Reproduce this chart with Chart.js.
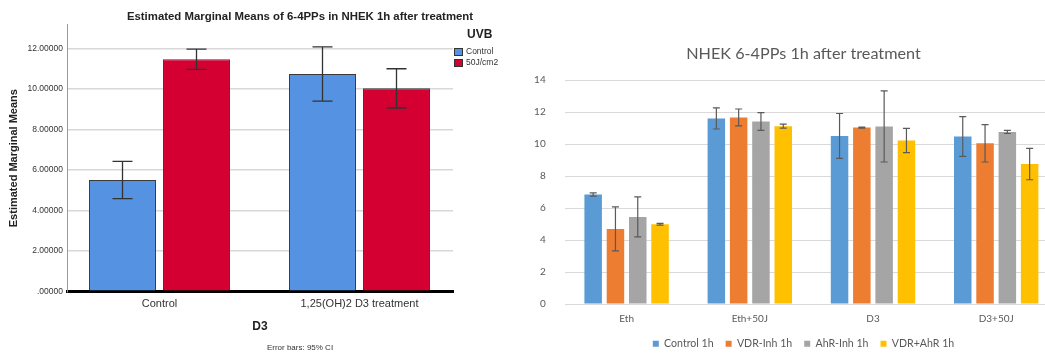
<!DOCTYPE html>
<html>
<head>
<meta charset="utf-8">
<script src="https://cdn.jsdelivr.net/npm/chart.js@4.4.1/dist/chart.umd.min.js"></script>
<style>
  html, body { margin: 0; padding: 0; background: #fff; }
  body { width: 1045px; height: 353px; position: relative; overflow: hidden; }
  #emm { position: absolute; left: 0; top: 0; }
  #nhek { position: absolute; left: 500px; top: 0; }
</style>
</head>
<body>
<canvas id="emm" width="600" height="353"></canvas>
<canvas id="nhek" width="607" height="353"></canvas>
<script>
// ---- Estimated marginal means (SPSS style) ----
const d3Groups = ['Control', '1,25(OH)2 D3 treatment'];
const uvbLabels = ['Control', '50J/cm2'];
const emmControl = [5.50, 10.73];
const emm50J = [11.46, 10.02];
const ciControl = [0.92, 1.34];
const ci50J = [0.50, 0.97];
const emmTicks = [0, 2, 4, 6, 8, 10, 12];

// ---- NHEK 6-4PPs 1h after treatment ----
const treatments = ['Eth', 'Eth+50J', 'D3', 'D3+50J'];
const seriesNames = ['Control 1h', 'VDR-Inh 1h', 'AhR-Inh 1h', 'VDR+AhR 1h'];
const control1h = [6.85, 11.60, 10.51, 10.47];
const vdrInh1h = [4.70, 11.66, 11.03, 10.05];
const ahrInh1h = [5.45, 11.41, 11.10, 10.76];
const vdrAhr1h = [4.99, 11.12, 10.22, 8.75];
const errControl1h = [0.10, 0.66, 1.40, 1.24];
const errVdrInh1h = [1.38, 0.53, 0.03, 1.17];
const errAhrInh1h = [1.25, 0.55, 2.22, 0.10];
const errVdrAhr1h = [0.05, 0.13, 0.76, 0.98];

// Draws symmetric error bars from each dataset's `errors` array
const errorBars = {
  id: 'errorBars',
  afterDatasetsDraw(chart, args, opts) {
    const ctx = chart.ctx;
    const y = chart.scales.y;
    ctx.save();
    ctx.strokeStyle = opts.color;
    ctx.lineWidth = opts.width;
    chart.data.datasets.forEach((ds, di) => {
      const meta = chart.getDatasetMeta(di);
      if (!ds.errors || meta.hidden) return;
      meta.data.forEach((bar, i) => {
        const v = meta._parsed[i].y, e = ds.errors[i];
        const x = bar.x;
        const top = y.getPixelForValue(v + e);
        const bot = y.getPixelForValue(v - e);
        ctx.beginPath();
        ctx.moveTo(x, top); ctx.lineTo(x, bot);
        ctx.moveTo(x - opts.cap, top); ctx.lineTo(x + opts.cap, top);
        ctx.moveTo(x - opts.cap, bot); ctx.lineTo(x + opts.cap, bot);
        ctx.stroke();
      });
    });
    ctx.restore();
  }
};

// SPSS-like legend with a title, placed to the right of the plot area
const uvbLegend = {
  id: 'uvbLegend',
  afterDraw(chart, args, opts) {
    const ctx = chart.ctx;
    const x0 = chart.chartArea.right + 1;
    ctx.save();
    ctx.fillStyle = '#222';
    ctx.font = 'bold 12px "Liberation Sans", Arial, sans-serif';
    ctx.textBaseline = 'middle';
    ctx.textAlign = 'left';
    ctx.fillText(opts.title, x0 + 13, 35);
    ctx.font = '8.5px "Liberation Sans", Arial, sans-serif';
    chart.data.datasets.forEach((ds, i) => {
      const cy = 52 + i * 11;
      ctx.fillStyle = ds.backgroundColor;
      ctx.fillRect(x0, cy - 3.5, 8, 7);
      ctx.strokeStyle = '#333';
      ctx.lineWidth = 1;
      ctx.strokeRect(x0 + 0.5, cy - 3.5, 8, 7);
      ctx.fillStyle = '#333';
      ctx.fillText(ds.label, x0 + 12, cy);
    });
    ctx.restore();
  }
};

const arial = '"Liberation Sans", Arial, sans-serif';
const asPoints = arr => arr.map((v, i) => ({ x: i, y: v }));

new Chart(document.getElementById('emm'), {
  type: 'bar',
  data: {
    datasets: [
      { label: uvbLabels[0], data: asPoints(emmControl), errors: ciControl,
        backgroundColor: '#5592e2', borderColor: '#3a3a3a', borderWidth: 1 },
      { label: uvbLabels[1], data: asPoints(emm50J), errors: ci50J,
        backgroundColor: '#d50032', borderColor: '#3a3a3a', borderWidth: 1 }
    ]
  },
  options: {
    responsive: false,
    animation: false,
    layout: { padding: 0 },
    datasets: { bar: { categoryPercentage: 0.74, barPercentage: 0.905 } },
    plugins: {
      legend: { display: false },
      tooltip: { enabled: false },
      title: {
        display: true,
        text: 'Estimated Marginal Means of 6-4PPs in NHEK 1h after treatment',
        font: { family: arial, size: 11.4, weight: 'bold' },
        color: '#222',
        padding: { top: 10.3, bottom: 1 }
      },
      subtitle: {
        display: true,
        position: 'bottom',
        text: 'Error bars: 95% CI',
        font: { family: arial, size: 8 },
        color: '#333',
        padding: 0
      },
      errorBars: { color: '#333', width: 1.3, cap: 10 },
      uvbLegend: { title: 'UVB' }
    },
    scales: {
      x: {
        type: 'linear',
        offset: false,
        min: -0.4625, max: 1.4675,
        grid: { display: false, drawTicks: false },
        border: { color: '#000', width: 3 },
        afterBuildTicks(s) { s.ticks = d3Groups.map((g, i) => ({ value: i })); },
        ticks: {
          font: { family: arial, size: 11 }, color: '#333', padding: 6,
          callback: v => d3Groups[v]
        },
        title: {
          display: true, text: 'D3',
          font: { family: arial, size: 12, weight: 'bold' }, color: '#222',
          padding: { top: 0, bottom: 10 }
        },
        afterFit(s) { s.height = 52.1; }
      },
      y: {
        min: 0, max: 13.15,
        grid: { color: '#d8d8d8', lineWidth: 1.5, drawTicks: false },
        border: { color: '#9a9a9a', width: 1 },
        ticks: {
          padding: 4,
          font: { family: arial, size: 8.5 }, color: '#333',
          callback: v => v === 0 ? '.00000' : v.toFixed(5)
        },
        afterBuildTicks(s) { s.ticks = emmTicks.map(v => ({ value: v })); },
        title: {
          display: true, text: 'Estimated Marginal Means',
          font: { family: arial, size: 11, weight: 'bold' }, color: '#222',
          padding: { top: 7.4, bottom: 0 }
        },
        afterFit(s) { s.width = 67; }
      },
      legendSpace: {
        type: 'linear', position: 'right', display: true,
        grid: { display: false }, border: { display: false },
        ticks: { display: false },
        afterFit(s) { s.width = 147; }
      }
    }
  },
  plugins: [errorBars, uvbLegend]
});

// ---- Excel-style clustered columns ----
const lato = 'Lato, "Open Sans", sans-serif';
const seriesColors = ['#5b9bd5', '#ed7d31', '#a5a5a5', '#ffc000'];
const seriesData = [control1h, vdrInh1h, ahrInh1h, vdrAhr1h];
const seriesErr = [errControl1h, errVdrInh1h, errAhrInh1h, errVdrAhr1h];

new Chart(document.getElementById('nhek'), {
  type: 'bar',
  data: {
    labels: treatments,
    datasets: seriesNames.map((name, i) => ({
      label: name, data: seriesData[i], errors: seriesErr[i],
      backgroundColor: seriesColors[i], borderWidth: 0
    }))
  },
  options: {
    responsive: false,
    animation: false,
    layout: { padding: { left: 0, right: 0, top: 0, bottom: -6 } },
    datasets: { bar: { categoryPercentage: 0.724, barPercentage: 0.785 } },
    plugins: {
      tooltip: { enabled: false },
      title: {
        display: true,
        text: 'NHEK 6-4PPs 1h after treatment',
        font: { family: lato, size: 16.2, weight: 'normal' },
        color: '#595959',
        padding: { top: 44.3, bottom: 16.3 }
      },
      legend: {
        position: 'bottom',
        labels: {
          boxWidth: 6, boxHeight: 6, padding: 12,
          font: { family: lato, size: 10.6 }, color: '#595959'
        }
      },
      errorBars: { color: '#5a5a5a', width: 1.2, cap: 3.5 }
    },
    scales: {
      x: {
        grid: { display: false, drawTicks: false },
        border: { color: '#d9d9d9', width: 1 },
        ticks: { font: { family: lato, size: 10 }, color: '#595959', padding: 9.1 },
        afterFit(s) { s.height = 22.3; }
      },
      y: {
        min: 0, max: 14,
        grid: { color: '#d9d9d9', drawTicks: false },
        border: { display: false },
        ticks: { stepSize: 2, padding: 19.3, font: { family: lato, size: 10 }, color: '#595959' },
        afterFit(s) { s.width = 65; }
      },
      edgeSpace: {
        type: 'linear', position: 'right', display: true,
        grid: { display: false }, border: { display: false },
        ticks: { display: false },
        afterFit(s) { s.width = 49.2; }
      }
    }
  },
  plugins: [errorBars]
});
</script>
</body>
</html>
